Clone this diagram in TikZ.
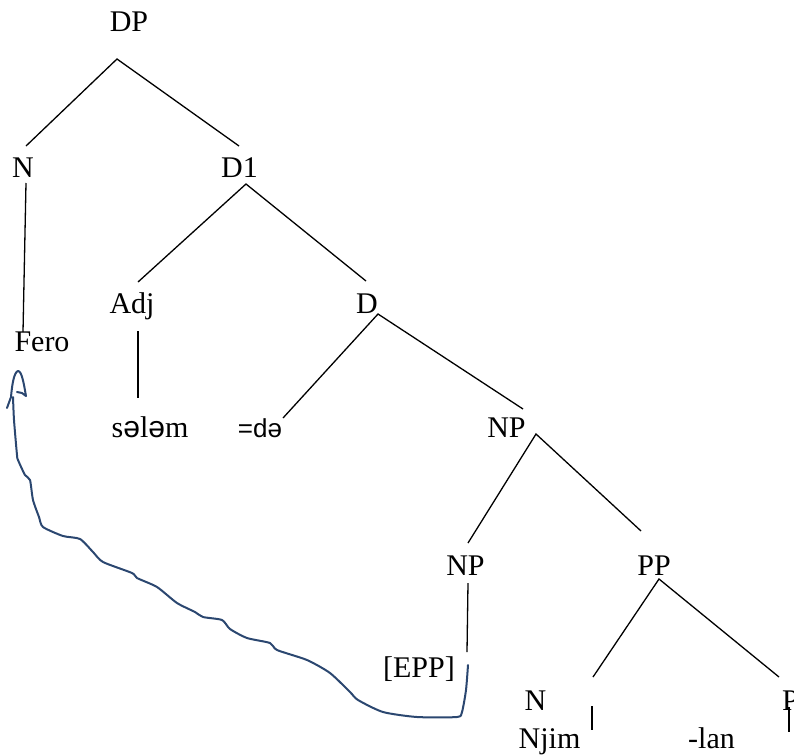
\documentclass[tikz,border=0pt]{standalone}
\usepackage{fontspec}
\setmainfont{Liberation Serif}
\newfontfamily\ipafont{Liberation Sans}
\usepackage{xcolor}
\usetikzlibrary{calc}
\definecolor{movecol}{HTML}{2B4770}
\tikzset{
  lbl/.style={anchor=base, inner sep=0pt, font=\fontsize{30}{30}\selectfont},
  branch/.style={line width=1.3pt},
  movement/.style={draw=movecol, line width=2pt, line cap=round, line join=round},
}

\begin{document}
\begin{tikzpicture}[x=1pt,y=-1pt]
\useasboundingbox (0,0) rectangle (794,755);
\node[lbl] at (129, 31) (dp) {DP};
\node[lbl] at (23, 177) (n) {N};
\node[lbl] at (239.5, 177) (done) {D1};
\node[lbl] at (42, 351) (fero) {Fero};
\node[lbl] at (132, 313) (adj) {Adj};
\node[lbl] at (367, 313) (d) {D};
\node[lbl] at (150, 437) (selem) {s{\ipafont ə}l{\ipafont ə}m};
\node[lbl, font=\ipafont\fontsize{26}{26}\selectfont] at (260, 437) (de) {=də};
\node[lbl] at (506.5, 437) (np) {NP};
\node[lbl] at (465.5, 575) (nptwo) {NP};
\node[lbl] at (654, 575) (pp) {PP};
\node[lbl] at (419, 677) (epp) {[EPP]};
\node[lbl] at (535.5, 710) (nthree) {N};
\node[lbl] at (549.5, 748) (njim) {Njim};
\node[lbl] at (711.5, 748) (lan) {-lan};
\node[lbl, anchor=base west] at (782, 710) (p) {P};
% branches
\draw[branch] (n.base) ++(3,-31) -- ([shift={(-12,28)}]dp.base) -- ([shift={(-0.5,-31)}]done.base);
\draw[branch] ([shift={(3,6)}]n.base) -- ([shift={(-19,-19)}]fero.base);
\draw[branch] ([shift={(6,-31)}]adj.base) -- ([shift={(6.5,7)}]done.base) -- ([shift={(-1,-32)}]d.base);
\draw[branch] ([shift={(6,18)}]adj.base) -- ([shift={(-12,-39)}]selem.base);
\draw[branch] ([shift={(23,-19)}]de.base) -- ([shift={(11,1)}]d.base) -- ([shift={(16.5,-28)}]np.base);
\draw[branch] ([shift={(2.5,-32)}]nptwo.base) -- ([shift={(29.5,-3)}]np.base) -- ([shift={(-13,-44)}]pp.base);
\draw[branch] ([shift={(2.5,8)}]nptwo.base) -- ([shift={(48,-25)}]epp.base);
\draw[branch] ([shift={(57.5,-33)}]nthree.base) -- ([shift={(5,4)}]pp.base) -- ([shift={(-3,-33)}]p.base west);
\draw[branch] ([shift={(56.5,-4)}]nthree.base) -- ([shift={(42.5,-18)}]njim.base);
\draw[branch] ([shift={(7,-3)}]p.base west) -- ([shift={(77.5,-16)}]lan.base);
% movement line
\coordinate (movestart) at ([shift={(49,-12)}]epp.base);
\coordinate (moveend) at ([shift={(-29,46)}]fero.base);
\draw[movement] plot[smooth, tension=0.4] coordinates {(movestart) (466,690) (462,712) (457,717)
  (417,717) (383,712) (358,700) (350,692) (330,673) (307,660) (277,650) (270,643) (247,638)
  (230,629) (222,620) (203,617) (195,612) (177,603) (157,587) (137,578) (132,573) (103,562)
  (93,552) (80,539) (63,536) (43,527) (39,517) (33,500) (30,480) (25,475) (18,460) (17,455)
  (14,420) (moveend)};
\draw[movement] (7,408) -- (11,397) .. controls (12,385) and (14,372) .. (18,371)
  .. controls (22,371) and (24,385) .. (26,396) -- (22,393) -- (17,392);
\end{tikzpicture}
\end{document}
